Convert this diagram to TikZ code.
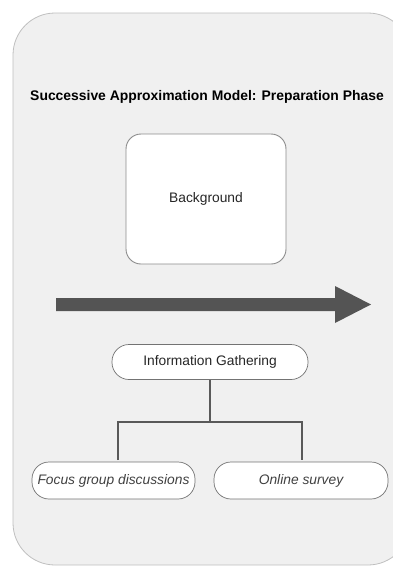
\documentclass[tikz,border=0pt]{standalone}
\usepackage{fontspec}
\setmainfont{Liberation Sans}
\begin{document}
\begin{tikzpicture}[x=1pt,y=-1pt,
  pill/.style={draw=black!55,fill=white,rounded corners=17pt,line width=0.7pt,text=black!75},
  conn/.style={draw=black!65,line width=1.1pt}]
\useasboundingbox (0,0) rectangle (393,568);
\begin{scope}
\clip (0,0) rectangle (393,568);
\draw[fill=black!6,draw=black!25,line width=0.8pt,rounded corners=42pt] (13,13) rectangle (410,565);
\end{scope}
\node[font=\bfseries\fontsize{13.9}{16}\selectfont] (title) at (207,97) {Successive Approximation Model: Preparation Phase};
\node[draw=black!45,fill=white,rounded corners=15pt,line width=0.9pt,minimum width=160pt,minimum height=130pt,font=\fontsize{13.8}{16}\selectfont,text=black!85] (bg) at (206,199) {Background};
\fill[black!67] (56,298) -- (335,298) -- (335,286) -- (371,304.5) -- (335,323) -- (335,311) -- (56,311) -- cycle;
\node[pill,minimum width=196pt,minimum height=35pt,font=\fontsize{13.8}{16}\selectfont,text=black!85] (ig) at (210,362) {Information Gathering};
\node[pill,minimum width=163pt,minimum height=37pt,inner xsep=2pt,font=\itshape\fontsize{13.8}{16}\selectfont] (fg) at (113.5,480.5) {Focus group discussions};
\node[pill,minimum width=174pt,minimum height=37pt,font=\itshape\fontsize{13.8}{16}\selectfont] (os) at (301,480.5) {Online survey};
\coordinate (j) at (210,422);
\draw[conn] (ig.south) -- (j);
\draw[conn] (118,460) |- (j) -| (302,460);
\end{tikzpicture}
\end{document}
